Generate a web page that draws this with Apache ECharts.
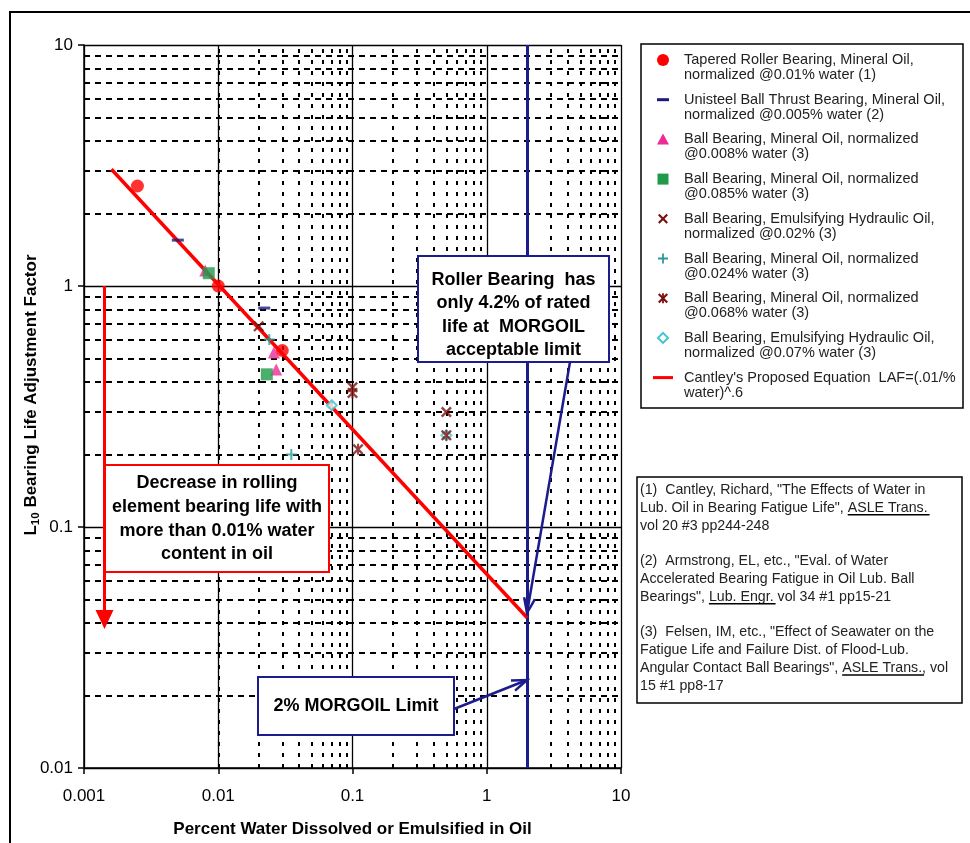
<!DOCTYPE html>
<html><head><meta charset="utf-8">
<script src="https://cdn.jsdelivr.net/npm/echarts@6/dist/echarts.min.js"></script>
<style>html,body{margin:0;padding:0;background:#fff}#c{width:970px;height:843px}</style>
</head><body><div id="c"></div><script>
// ---------------- data ----------------
const taperedX = [0.0025, 0.01, 0.03];
const taperedY = [2.6, 1.0, 0.54];
const unisteelX = [0.005, 0.022];
const unisteelY = [1.55, 0.81];
const bb008X = [0.008, 0.026, 0.027];
const bb008Y = [1.16, 0.53, 0.45];
const bb085X = [0.0085, 0.023];
const bb085Y = [1.13, 0.43];
const emul02X = [0.02, 0.1, 0.5];
const emul02Y = [0.68, 0.38, 0.30];
const bb024X = [0.024, 0.035];
const bb024Y = [0.6, 0.2];
const bb068X = [0.1, 0.11, 0.5];
const bb068Y = [0.36, 0.21, 0.24];
const emul07X = [0.07, 0.5];
const emul07Y = [0.32, 0.24];
const cantleyX = [0.0016, 2];
const cantleyY = [3.05, 0.042];
const morgoilLimit = [2];
const xTickLabels = ['0.001', '0.01', '0.1', '1', '10'];
const yTickLabels = ['0.01', '0.1', '1', '10'];
const minorMult = [2, 3, 4, 5, 6, 7, 8, 9];
const xDecades = [0.001, 0.01, 0.1, 1];
const yDecades = [0.01, 0.1, 1];

const legendNames = [
  ['Tapered Roller Bearing, Mineral Oil,', 'normalized @0.01% water (1)'],
  ['Unisteel Ball Thrust Bearing, Mineral Oil,', 'normalized @0.005% water (2)'],
  ['Ball Bearing, Mineral Oil, normalized', '@0.008% water (3)'],
  ['Ball Bearing, Mineral Oil, normalized', '@0.085% water (3)'],
  ['Ball Bearing, Emulsifying Hydraulic Oil,', 'normalized @0.02% (3)'],
  ['Ball Bearing, Mineral Oil, normalized', '@0.024% water (3)'],
  ['Ball Bearing, Mineral Oil, normalized', '@0.068% water (3)'],
  ['Ball Bearing, Emulsifying Hydraulic Oil,', 'normalized @0.07% water (3)'],
  ["Cantley's Proposed Equation  LAF=(.01/%", 'water)^.6']
];
const refLines = [
  ['(1)  Cantley, Richard, "The Effects of Water in'],
  ['Lub. Oil in Bearing Fatigue Life", ', 'ASLE Trans.'],
  ['vol 20 #3 pp244-248'],
  [''],
  ['(2)  Armstrong, EL, etc., "Eval. of Water'],
  ['Accelerated Bearing Fatigue in Oil Lub. Ball'],
  ['Bearings", ', 'Lub. Engr.', ' vol 34 #1 pp15-21'],
  [''],
  ['(3)  Felsen, IM, etc., "Effect of Seawater on the'],
  ['Fatigue Life and Failure Dist. of Flood-Lub.'],
  ['Angular Contact Ball Bearings", ', 'ASLE Trans.', ', vol'],
  ['15 #1 pp8-17']
];
const rollerText = ['Roller Bearing  has', 'only 4.2% of rated', 'life at  MORGOIL', 'acceptable limit'];
const decreaseText = ['Decrease in rolling', 'element bearing life with', 'more than 0.01% water', 'content in oil'];
const limitText = '2% MORGOIL Limit';

// ---------------- helpers ----------------
const FONT = '"Liberation Sans", Arial, sans-serif';
const pts = (xs, ys) => xs.map((x, i) => [x, ys[i]]);
const mctx = document.createElement('canvas').getContext('2d');
function tw(s, size, weight) { mctx.font = (weight || 'normal') + ' ' + size + 'px "Liberation Sans"'; return mctx.measureText(s).width; }
function nearestLabel(v, labels) {
  let best = labels[0], bd = 1e9;
  labels.forEach(l => { const d = Math.abs(Math.log10(+l) - Math.log10(v)); if (d < bd) { bd = d; best = l; } });
  return best;
}
const XPTS = [[0,1.5],[1.5,0],[5,3.5],[8.5,0],[10,1.5],[6.5,5],[10,8.5],[8.5,10],[5,6.5],[1.5,10],[0,8.5],[3.5,5]];
const PLUSPTS = [[4.1,0],[5.9,0],[5.9,4.1],[10,4.1],[10,5.9],[5.9,5.9],[5.9,10],[4.1,10],[4.1,5.9],[0,5.9],[0,4.1],[4.1,4.1]];
const toPath = p => 'path://M' + p.map(q => q.join(',')).join(' L') + ' Z';
const P_X = toPath(XPTS);
const P_PLUS = toPath(PLUSPTS);
const P_STAR = P_X + ' M4.1,0 L5.9,0 L5.9,10 L4.1,10 Z';
const P_DASH = 'path://M0,0 L10,0 L10,3 L0,3 Z';

const C_RED = '#ff0000', C_NAVY = '#1a1a80', C_PINK = '#ee2a96', C_GREEN = '#1f9a48',
      C_MAROON = '#7a1010', C_TEAL = '#2a9a9a', C_CYAN = '#3cc4d0', C_BLUE = '#1c1c8c';

const minorX = []; xDecades.forEach(d => minorMult.forEach(m => minorX.push(+(d * m).toPrecision(3))));
const minorY = []; yDecades.forEach(d => minorMult.forEach(m => minorY.push(+(d * m).toPrecision(3))));

// ---------------- graphic ----------------
const g = [];
g.push({type: 'polyline', shape: {points: [[10, 843], [10, 12], [970, 12]]}, style: {stroke: '#000', lineWidth: 2, fill: null}, z: 10});
const LX = 641, LY = 44, LW = 322, LPITCH = 39.7, L0 = 60;
g.push({type: 'rect', shape: {x: LX, y: LY, width: LW, height: 364}, style: {fill: '#fff', stroke: '#000', lineWidth: 1.5}, z: 10});
const mx = 663;
const sc = (p, cx, cy) => p.map(q => [cx - 5 + q[0], cy - 5 + q[1]]);
legendNames.forEach((nm, i) => {
  const y = L0 + LPITCH * i;
  g.push({type: 'text', x: 684, y: y - 7.5, style: {text: nm[0] + '\n' + nm[1], fontSize: 14.5, fontFamily: FONT, fill: '#222', lineHeight: 15, verticalAlign: 'top'}, z: 11});
  const ms = [];
  switch (i) {
    case 0: ms.push({type: 'circle', shape: {cx: mx, cy: y, r: 6}, style: {fill: C_RED}}); break;
    case 1: ms.push({type: 'rect', shape: {x: mx - 6, y: y - 1.5, width: 12, height: 3}, style: {fill: C_NAVY}}); break;
    case 2: ms.push({type: 'polygon', shape: {points: [[mx, y - 6], [mx + 6, y + 5], [mx - 6, y + 5]]}, style: {fill: C_PINK}}); break;
    case 3: ms.push({type: 'rect', shape: {x: mx - 5.5, y: y - 5.5, width: 11, height: 11}, style: {fill: C_GREEN}}); break;
    case 4: ms.push({type: 'polygon', shape: {points: sc(XPTS, mx, y)}, style: {fill: C_MAROON}}); break;
    case 5: ms.push({type: 'polygon', shape: {points: sc(PLUSPTS, mx, y)}, style: {fill: C_TEAL}}); break;
    case 6: ms.push({type: 'polygon', shape: {points: sc(XPTS, mx, y)}, style: {fill: C_MAROON}});
            ms.push({type: 'rect', shape: {x: mx - 0.9, y: y - 5, width: 1.8, height: 10}, style: {fill: C_MAROON}}); break;
    case 7: ms.push({type: 'polygon', shape: {points: [[mx, y - 5], [mx + 5, y], [mx, y + 5], [mx - 5, y]]}, style: {fill: '#fff', stroke: C_CYAN, lineWidth: 2}}); break;
    case 8: ms.push({type: 'line', shape: {x1: mx - 10, y1: y, x2: mx + 10, y2: y}, style: {stroke: C_RED, lineWidth: 3}}); break;
  }
  ms.forEach(m => { m.z = 11; g.push(m); });
});
// reference box
const RX = 637, RY = 477, RPITCH = 17.8, R0 = 490, RFS = 14.2;
g.push({type: 'rect', shape: {x: RX, y: RY, width: 325, height: 226}, style: {fill: '#fff', stroke: '#000', lineWidth: 1.5}, z: 10});
refLines.forEach((parts, i) => {
  const y = R0 + RPITCH * i;
  const full = parts.join('');
  if (!full) return;
  g.push({type: 'text', x: 640, y: y, style: {text: full, fontSize: RFS, fontFamily: FONT, fill: '#222', verticalAlign: 'middle'}, z: 11});
  if (parts.length > 1) {
    const x0 = 640 + tw(parts[0], RFS), x1 = x0 + tw(parts[1], RFS);
    g.push({type: 'line', shape: {x1: x0, y1: y + 7, x2: x1 + 2, y2: y + 7}, style: {stroke: '#000', lineWidth: 1.5}, z: 11});
  }
});
// roller bearing box
g.push({type: 'rect', shape: {x: 418, y: 256, width: 191, height: 106}, style: {fill: '#fff', stroke: C_BLUE, lineWidth: 2}, z: 10});
g.push({type: 'text', x: 513.5, y: 268, style: {text: rollerText.join('\n'), fontSize: 18, fontWeight: 'bold', fontFamily: FONT, fill: '#000', align: 'center', verticalAlign: 'top', lineHeight: 23.5}, z: 11});
function openArrow(x1, y1, x2, y2, color, w, len, ang) {
  const a = Math.atan2(y2 - y1, x2 - x1);
  const p1 = [x2 - len * Math.cos(a - ang), y2 - len * Math.sin(a - ang)];
  const p2 = [x2 - len * Math.cos(a + ang), y2 - len * Math.sin(a + ang)];
  g.push({type: 'line', shape: {x1, y1, x2, y2}, style: {stroke: color, lineWidth: w}, z: 12});
  g.push({type: 'polyline', shape: {points: [p1, [x2, y2], p2]}, style: {stroke: color, lineWidth: w, fill: null}, z: 12});
}
openArrow(570, 362, 527, 613, C_BLUE, 2.5, 16, 0.35);
// 2% limit box
g.push({type: 'rect', shape: {x: 258, y: 677, width: 196, height: 58}, style: {fill: '#fff', stroke: C_BLUE, lineWidth: 2}, z: 10});
g.push({type: 'text', x: 356, y: 706, style: {text: limitText, fontSize: 18, fontWeight: 'bold', fontFamily: FONT, fill: '#000', align: 'center', verticalAlign: 'middle'}, z: 11});
openArrow(454, 709, 527, 680, C_BLUE, 2.5, 16, 0.35);
// decrease box
g.push({type: 'rect', shape: {x: 105, y: 465, width: 224, height: 107}, style: {fill: '#fff', stroke: C_RED, lineWidth: 2}, z: 10});
g.push({type: 'text', x: 217, y: 471.5, style: {text: decreaseText.join('\n'), fontSize: 18, fontWeight: 'bold', fontFamily: FONT, fill: '#000', align: 'center', verticalAlign: 'top', lineHeight: 23.7}, z: 11});
// red down arrow
g.push({type: 'line', shape: {x1: 104.5, y1: 286, x2: 104.5, y2: 612}, style: {stroke: C_RED, lineWidth: 3}, z: 12});
g.push({type: 'polygon', shape: {points: [[95.5, 610], [113.5, 610], [104.5, 629]]}, style: {fill: C_RED}, z: 12});
// y title
g.push({type: 'text', x: 31, y: 395, rotation: Math.PI / 2,
  style: {text: '{a|L}{s|10}{a| Bearing Life Adjustment Factor}', align: 'center', verticalAlign: 'middle',
    rich: {a: {fontSize: 17, fontWeight: 'bold', fontFamily: FONT, fill: '#000'}, s: {fontSize: 11.5, fontWeight: 'bold', fontFamily: FONT, fill: '#000', padding: [9, 0, 0, 0]}}}, z: 11});

// ---------------- option ----------------
const axisCommon = {
  type: 'log', logBase: 10,
  axisLine: {show: true, lineStyle: {color: '#000', width: 1.5}},
  axisTick: {show: true, inside: false, length: 6, lineStyle: {color: '#000', width: 1.5}},
  splitLine: {show: true, lineStyle: {color: '#000', width: 1.3}},
  minorTick: {show: false}, minorSplitLine: {show: false}
};
const scatterBase = {type: 'scatter', z: 4, animation: false};
const option = {
  animation: false,
  backgroundColor: '#fff',
  grid: {left: 84, right: 349, top: 45, bottom: 75, containLabel: false},
  xAxis: Object.assign({}, axisCommon, {
    min: 0.001, max: 10,
    axisLabel: {fontSize: 17, color: '#000', fontFamily: FONT, margin: 20, formatter: v => nearestLabel(v, xTickLabels)},
    name: 'Percent Water Dissolved or Emulsified in Oil', nameLocation: 'middle', nameGap: 53,
    nameTextStyle: {fontSize: 17, fontWeight: 'bold', color: '#000', fontFamily: FONT}
  }),
  yAxis: Object.assign({}, axisCommon, {
    min: 0.01, max: 10,
    axisLabel: {fontSize: 17, color: '#000', fontFamily: FONT, margin: 11, formatter: v => nearestLabel(v, yTickLabels)}
  }),
  graphic: g,
  series: [
    {type: 'line', data: [[1, 1]], showSymbol: false, symbol: 'none', lineStyle: {opacity: 0}, z: 1, silent: true,
      markLine: {silent: true, symbol: 'none', z: 1, animation: false, label: {show: false},
        data: minorX.map(v => ({xAxis: v, lineStyle: {color: '#000', width: 2, type: [4, 7]}}))
          .concat(minorY.map(v => ({yAxis: v, lineStyle: {color: '#000', width: 2, type: [6, 5]}})))}},
    {type: 'line', data: [[1, 1]], showSymbol: false, symbol: 'none', lineStyle: {opacity: 0}, z: 2, silent: true,
      markLine: {silent: true, symbol: 'none', z: 2, animation: false, label: {show: false},
        data: morgoilLimit.map(v => ({xAxis: v, lineStyle: {color: C_BLUE, width: 3, type: 'solid'}}))}},
    {name: "Cantley's Proposed Equation", type: 'line', data: pts(cantleyX, cantleyY), symbol: 'none', z: 3,
      lineStyle: {color: C_RED, width: 3.5}},
    Object.assign({}, scatterBase, {name: 'Tapered Roller', data: pts(taperedX, taperedY), symbol: 'circle', symbolSize: 13, itemStyle: {color: C_RED}}),
    Object.assign({}, scatterBase, {name: 'Unisteel', data: pts(unisteelX, unisteelY), symbol: P_DASH, symbolSize: [12, 3], itemStyle: {color: C_NAVY}}),
    Object.assign({}, scatterBase, {name: 'BB 0.008', data: pts(bb008X, bb008Y), symbol: 'triangle', symbolSize: [12, 12], itemStyle: {color: C_PINK}}),
    Object.assign({}, scatterBase, {name: 'BB 0.085', data: pts(bb085X, bb085Y), symbol: 'rect', symbolSize: 12, itemStyle: {color: C_GREEN}}),
    Object.assign({}, scatterBase, {name: 'Emul 0.02', data: pts(emul02X, emul02Y), symbol: P_X, symbolSize: 11, itemStyle: {color: C_MAROON}}),
    Object.assign({}, scatterBase, {name: 'BB 0.024', data: pts(bb024X, bb024Y), symbol: P_PLUS, symbolSize: 11, itemStyle: {color: C_TEAL}}),
    Object.assign({}, scatterBase, {name: 'Emul 0.07', data: pts(emul07X, emul07Y), symbol: 'diamond', symbolSize: 10, itemStyle: {color: '#fff', borderColor: C_CYAN, borderWidth: 2}}),
    Object.assign({}, scatterBase, {name: 'BB 0.068', data: pts(bb068X, bb068Y), symbol: P_STAR, symbolSize: 11, itemStyle: {color: C_MAROON}})
  ]
};
const chart = echarts.init(document.getElementById('c'), null, {renderer: 'canvas'});
chart.setOption(option);
</script></body></html>
